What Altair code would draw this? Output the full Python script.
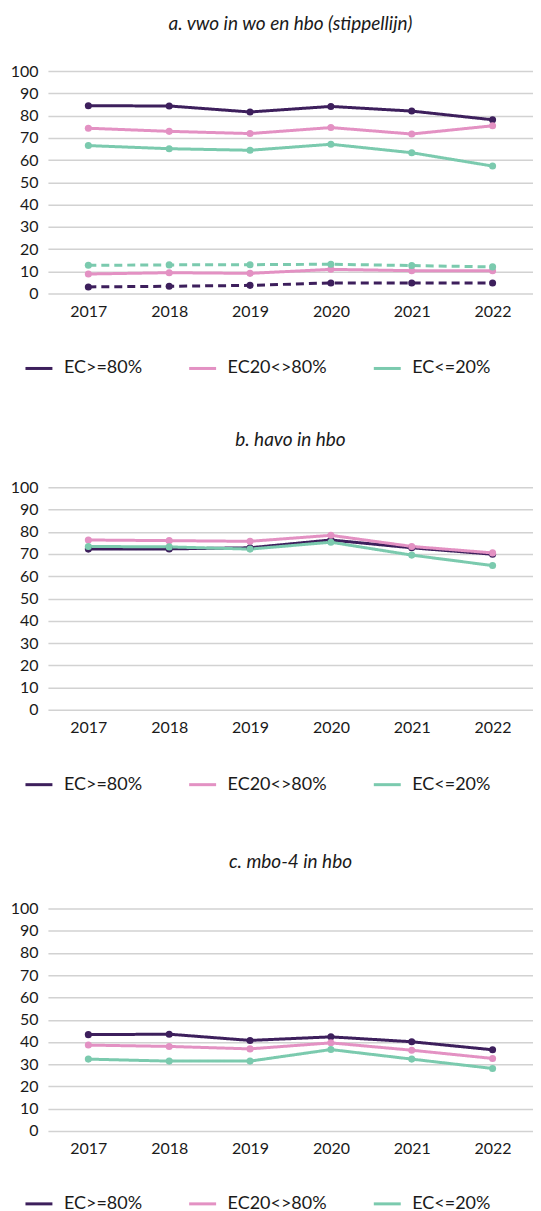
import altair as alt
import pandas as pd

years = [2017, 2018, 2019, 2020, 2021, 2022]
ec_groups = ["EC>=80%", "EC20<>80%", "EC<=20%"]
ec_colors = ["#3d1f5c", "#e391c3", "#7bcaae"]

# a. vwo in wo (solid) en hbo (dashed)
a_wo_hi = [84.4, 84.3, 81.6, 84.1, 82.0, 78.1]
a_wo_mid = [74.3, 72.9, 71.9, 74.6, 71.7, 75.4]
a_wo_lo = [66.5, 65.1, 64.4, 67.1, 63.3, 57.3]
a_hbo_hi = [3.0, 3.3, 3.7, 4.8, 4.8, 4.8]
a_hbo_mid = [8.8, 9.4, 9.1, 10.9, 10.3, 10.3]
a_hbo_lo = [12.7, 12.9, 13.0, 13.2, 12.6, 12.0]
# b. havo in hbo
b_hi = [72.2, 72.3, 72.8, 76.3, 72.8, 69.9]
b_mid = [76.3, 76.0, 75.7, 78.4, 73.4, 70.5]
b_lo = [73.4, 73.2, 72.2, 75.3, 69.5, 64.8]
# c. mbo-4 in hbo
c_hi = [43.3, 43.5, 40.7, 42.3, 40.1, 36.5]
c_mid = [38.6, 38.0, 36.9, 39.6, 36.3, 32.6]
c_lo = [32.3, 31.4, 31.4, 36.6, 32.3, 28.1]

titles = ["a. vwo in wo en hbo (stippellijn)", "b. havo in hbo", "c. mbo-4 in hbo"]


def frame(series):
    rows = []
    for name, ec, dash, vals in series:
        for yr, v in zip(years, vals):
            rows.append({"line": name, "ec": ec, "dash": dash, "year": yr, "value": v})
    return pd.DataFrame(rows)


df_a = frame([
    ("wo_hi", ec_groups[0], "solid", a_wo_hi),
    ("wo_mid", ec_groups[1], "solid", a_wo_mid),
    ("wo_lo", ec_groups[2], "solid", a_wo_lo),
    ("hbo_hi", ec_groups[0], "dashed", a_hbo_hi),
    ("hbo_mid", ec_groups[1], "solid", a_hbo_mid),
    ("hbo_lo", ec_groups[2], "dashed", a_hbo_lo),
])
df_b = frame([
    ("hi", ec_groups[0], "solid", b_hi),
    ("mid", ec_groups[1], "solid", b_mid),
    ("lo", ec_groups[2], "solid", b_lo),
])
df_c = frame([
    ("hi", ec_groups[0], "solid", c_hi),
    ("mid", ec_groups[1], "solid", c_mid),
    ("lo", ec_groups[2], "solid", c_lo),
])

FONT = "Lato"
TXT = "#1a1a1a"


def panel(df, title, legend_y=283):
    color = alt.Color(
        "ec:N",
        scale=alt.Scale(domain=ec_groups, range=ec_colors),
        sort=ec_groups,
        legend=alt.Legend(
            title=None,
            orient="none",
            legendX=-24,
            legendY=legend_y,
            direction="horizontal",
            symbolType="stroke",
            symbolSize=729,
            symbolStrokeWidth=3,
            labelFontSize=18,
            labelFont=FONT,
            labelColor=TXT,
            labelOffset=10,
            columnPadding=40,
            padding=0,
        ),
    )
    base = alt.Chart(df).encode(
        x=alt.X(
            "year:Q",
            scale=alt.Scale(domain=[2016.5, 2022.5], nice=False, zero=False),
            axis=alt.Axis(values=years, format="d", title=None, grid=False, ticks=False,
                          domain=False, labelPadding=10, labelFontSize=16, labelFont=FONT,
                          labelColor=TXT),
        ),
        y=alt.Y(
            "value:Q",
            scale=alt.Scale(domain=[0, 100], nice=False),
            axis=alt.Axis(values=list(range(0, 101, 10)), title=None, ticks=False, domain=False,
                          labelPadding=10, minExtent=40, labelFontSize=16, labelFont=FONT,
                          labelColor=TXT, gridColor="#d2d2d2", gridWidth=1.5),
        ),
        color=color,
        detail="line:N",
    )
    lines = base.mark_line(strokeWidth=3).encode(
        strokeDash=alt.StrokeDash(
            "dash:N",
            scale=alt.Scale(domain=["solid", "dashed"], range=[[1, 0], [8, 5]]),
            legend=None,
        )
    )
    pts = base.mark_circle(size=50, opacity=1)
    return alt.layer(lines, pts).properties(
        width=486,
        height=223,
        title=alt.TitleParams(title, fontSize=19, font=FONT, fontStyle="italic",
                              fontWeight="normal", color=TXT, offset=29, anchor="middle"),
    ).resolve_scale(color="shared")


pa = panel(df_a, titles[0])
pb = panel(df_b, titles[1])
pc = panel(df_c, titles[2], legend_y=281)

lower = alt.vconcat(pb, pc, spacing=59).resolve_scale(
    color="independent", strokeDash="independent"
).resolve_legend(color="independent")
chart = alt.vconcat(pa, lower, spacing=54).resolve_scale(
    color="independent", strokeDash="independent"
).resolve_legend(color="independent").configure(
    padding={"top": 6, "left": 0, "right": 0, "bottom": 0}
).configure_view(stroke=None)

chart.save("out.html", embed_options={"renderer": "svg", "actions": False})
